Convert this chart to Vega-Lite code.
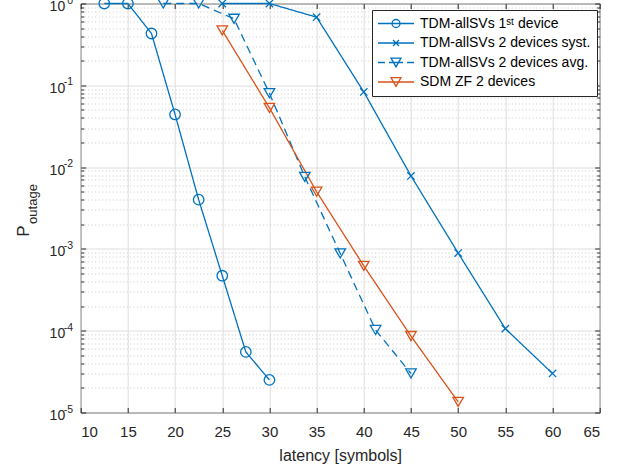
{
  "$schema": "https://vega.github.io/schema/vega-lite/v6.json",
  "width": 519,
  "height": 409,
  "autosize": "none",
  "padding": {"left": 80.7, "top": 3.5, "right": 25.3, "bottom": 59.5},
  "background": "white",
  "config": {
    "font": "Liberation Sans",
    "view": {"stroke": "#262626", "strokeWidth": 1},
    "axis": {"labelColor": "#262626", "titleColor": "#262626", "titleFontWeight": "normal", "domainColor": "#262626", "tickColor": "#262626", "labelFont": "Liberation Sans", "titleFont": "Liberation Sans"}
  },
  "title": {"text": "P", "orient": "left", "fontSize": 17, "fontWeight": "normal", "color": "#262626", "anchor": "middle", "offset": -6, "dx": -23},
  "data": {"values": [
    {"x": 12.5, "y": 1, "series": "TDM-allSVs 1ˢᵗ device"},
    {"x": 15, "y": 1, "series": "TDM-allSVs 1ˢᵗ device"},
    {"x": 17.5, "y": 0.43, "series": "TDM-allSVs 1ˢᵗ device"},
    {"x": 20, "y": 0.044, "series": "TDM-allSVs 1ˢᵗ device"},
    {"x": 22.5, "y": 0.004, "series": "TDM-allSVs 1ˢᵗ device"},
    {"x": 25, "y": 0.00047, "series": "TDM-allSVs 1ˢᵗ device"},
    {"x": 27.5, "y": 0.000055, "series": "TDM-allSVs 1ˢᵗ device"},
    {"x": 30, "y": 0.000025, "series": "TDM-allSVs 1ˢᵗ device"},
    {"x": 25, "y": 1, "series": "TDM-allSVs 2 devices syst."},
    {"x": 30, "y": 1, "series": "TDM-allSVs 2 devices syst."},
    {"x": 35, "y": 0.68, "series": "TDM-allSVs 2 devices syst."},
    {"x": 40, "y": 0.083, "series": "TDM-allSVs 2 devices syst."},
    {"x": 45, "y": 0.0078, "series": "TDM-allSVs 2 devices syst."},
    {"x": 50, "y": 0.00089, "series": "TDM-allSVs 2 devices syst."},
    {"x": 55, "y": 0.000106, "series": "TDM-allSVs 2 devices syst."},
    {"x": 60, "y": 0.00003, "series": "TDM-allSVs 2 devices syst."},
    {"x": 18.75, "y": 1, "series": "TDM-allSVs 2 devices avg."},
    {"x": 22.5, "y": 1, "series": "TDM-allSVs 2 devices avg."},
    {"x": 26.25, "y": 0.65, "series": "TDM-allSVs 2 devices avg."},
    {"x": 30, "y": 0.08, "series": "TDM-allSVs 2 devices avg."},
    {"x": 33.75, "y": 0.0076, "series": "TDM-allSVs 2 devices avg."},
    {"x": 37.5, "y": 0.00088, "series": "TDM-allSVs 2 devices avg."},
    {"x": 41.25, "y": 0.000102, "series": "TDM-allSVs 2 devices avg."},
    {"x": 45, "y": 0.00003, "series": "TDM-allSVs 2 devices avg."},
    {"x": 25, "y": 0.47, "series": "SDM ZF 2 devices"},
    {"x": 30, "y": 0.053, "series": "SDM ZF 2 devices"},
    {"x": 35, "y": 0.005, "series": "SDM ZF 2 devices"},
    {"x": 40, "y": 0.00062, "series": "SDM ZF 2 devices"},
    {"x": 45, "y": 0.000086, "series": "SDM ZF 2 devices"},
    {"x": 50, "y": 0.0000135, "series": "SDM ZF 2 devices"}
  ]},
  "resolve": {"axis": {"x": "independent", "y": "independent"}},
  "layer": [
    {
      "mark": {"type": "line", "strokeWidth": 1.3},
      "encoding": {
        "x": {"field": "x", "type": "quantitative",
          "scale": {"domain": [10, 65], "nice": false, "zero": false},
          "axis": {"orient": "bottom", "values": [10, 15, 20, 25, 30, 35, 40, 45, 50, 55, 60, 65], "labelFontSize": 15, "tickSize": -5, "labelPadding": 16.5, "grid": true, "gridColor": "#dedede", "domain": false, "title": "latency [symbols]", "titleFontSize": 16, "titleY": 43, "titleBaseline": "middle"}},
        "y": {"field": "y", "type": "quantitative",
          "scale": {"type": "log", "domain": [0.00001, 1], "nice": false},
          "axis": {"orient": "left", "domain": false,
            "values": [0.00001, 0.00002, 0.00003, 0.00004, 0.00005, 0.00006, 0.00007, 0.00008, 0.00009, 0.0001, 0.0002, 0.0003, 0.0004, 0.0005, 0.0006, 0.0007, 0.0008, 0.0009, 0.001, 0.002, 0.003, 0.004, 0.005, 0.006, 0.007, 0.008, 0.009, 0.01, 0.02, 0.03, 0.04, 0.05, 0.06, 0.07, 0.08, 0.09, 0.1, 0.2, 0.3, 0.4, 0.5, 0.6, 0.7, 0.8, 0.9, 1],
            "labelExpr": "abs(log(datum.value)/LN10 - round(log(datum.value)/LN10)) < 0.001 ? '10' : ''",
            "labelFontSize": 14, "labelBaseline": "middle", "labelOffset": 3,
            "labelPadding": 21,
            "tickSize": {"condition": {"test": "abs(log(datum.value)/LN10 - round(log(datum.value)/LN10)) < 0.001", "value": -5}, "value": -3},
            "grid": true,
            "gridColor": {"condition": {"test": "abs(log(datum.value)/LN10 - round(log(datum.value)/LN10)) < 0.001", "value": "#dedede"}, "value": "#c8c8c8"},
            "gridDash": {"condition": {"test": "abs(log(datum.value)/LN10 - round(log(datum.value)/LN10)) < 0.001", "value": []}, "value": [1, 2.5]},
            "title": "outage", "titleFontSize": 13, "titleX": -44.2, "titleY": 200, "titleBaseline": "alphabetic", "titleAlign": "center"}},
        "color": {"field": "series", "type": "nominal",
          "scale": {"domain": ["TDM-allSVs 1ˢᵗ device", "TDM-allSVs 2 devices syst.", "TDM-allSVs 2 devices avg.", "SDM ZF 2 devices"], "range": ["#0072BD", "#0072BD", "#0072BD", "#D95319"]},
          "legend": {"orient": "none", "legendX": 291.3, "legendY": 6.5, "title": null, "labelFontSize": 14, "labelColor": "black", "labelLimit": 400, "strokeColor": "#262626", "fillColor": "white", "padding": 6.5, "rowPadding": 5.5, "symbolSize": 100, "symbolStrokeWidth": 1.3, "symbolOffset": 10.5, "labelOffset": 17,
            "encode": {"symbols": {"update": {
              "shape": {"signal": "datum.value === 'TDM-allSVs 1ˢᵗ device' ? 'M-3.6,0H3.6M-0.8,0A0.8,0.8,0,1,0,0.8,0A0.8,0.8,0,1,0,-0.8,0' : datum.value === 'TDM-allSVs 2 devices syst.' ? 'M-3.6,0H3.6M-0.6,-0.6L0.6,0.6M0.6,-0.6L-0.6,0.6' : datum.value === 'TDM-allSVs 2 devices avg.' ? 'M-3.6,0H-2.2M-1.4,0H1.4M2.2,0H3.6M-1,-0.87H1L0,0.87Z' : 'M-3.6,0H3.6M-1,-0.87H1L0,0.87Z'"},
              "fill": {"value": "transparent"},
              "strokeDash": {"value": []},
              "strokeWidth": {"value": 1.3}}}}}},
        "strokeDash": {"field": "series", "type": "nominal",
          "scale": {"domain": ["TDM-allSVs 2 devices avg.", "SDM ZF 2 devices", "TDM-allSVs 1ˢᵗ device", "TDM-allSVs 2 devices syst."], "range": [[8, 5], [1, 0], [1, 0], [1, 0]]},
          "legend": null}
      }
    },
    {
      "mark": {"type": "point", "filled": false, "size": 110, "strokeWidth": 1.3, "opacity": 1},
      "encoding": {
        "x": {"field": "x", "type": "quantitative", "axis": null},
        "y": {"field": "y", "type": "quantitative", "axis": null},
        "color": {"field": "series", "type": "nominal"},
        "shape": {"field": "series", "type": "nominal",
          "scale": {"domain": ["SDM ZF 2 devices", "TDM-allSVs 1ˢᵗ device", "TDM-allSVs 2 devices avg.", "TDM-allSVs 2 devices syst."], "range": ["triangle-down", "circle", "triangle-down", "M-0.7,-0.7L0.7,0.7M0.7,-0.7L-0.7,0.7"]},
          "legend": null}
      }
    },
    {
      "mark": {"type": "point", "opacity": 0},
      "encoding": {
        "x": {"field": "x", "type": "quantitative",
          "axis": {"orient": "top", "values": [10, 15, 20, 25, 30, 35, 40, 45, 50, 55, 60, 65], "labels": false, "domain": false, "grid": false, "tickSize": -5, "title": null}},
        "y": {"field": "y", "type": "quantitative",
          "axis": {"orient": "right", "labels": false, "domain": false, "grid": false, "title": null,
            "values": [0.00001, 0.00002, 0.00003, 0.00004, 0.00005, 0.00006, 0.00007, 0.00008, 0.00009, 0.0001, 0.0002, 0.0003, 0.0004, 0.0005, 0.0006, 0.0007, 0.0008, 0.0009, 0.001, 0.002, 0.003, 0.004, 0.005, 0.006, 0.007, 0.008, 0.009, 0.01, 0.02, 0.03, 0.04, 0.05, 0.06, 0.07, 0.08, 0.09, 0.1, 0.2, 0.3, 0.4, 0.5, 0.6, 0.7, 0.8, 0.9, 1],
            "tickSize": {"condition": {"test": "abs(log(datum.value)/LN10 - round(log(datum.value)/LN10)) < 0.001", "value": -5}, "value": -3}}}
      }
    },
    {
      "mark": {"type": "point", "opacity": 0},
      "encoding": {
        "x": {"field": "x", "type": "quantitative", "axis": null},
        "y": {"field": "y", "type": "quantitative",
          "axis": {"orient": "left", "labels": true, "ticks": false, "domain": false, "grid": false, "title": null,
            "values": [0.00001, 0.0001, 0.001, 0.01, 0.1, 1],
            "labelExpr": "round(log(datum.value)/LN10) == 0 ? '0' : '-' + abs(round(log(datum.value)/LN10))",
            "labelFontSize": 10.5, "labelAlign": "right", "labelBaseline": "middle", "labelOffset": -3.5, "labelPadding": 8, "labelColor": "#262626"}}
      }
    }
  ]
}
